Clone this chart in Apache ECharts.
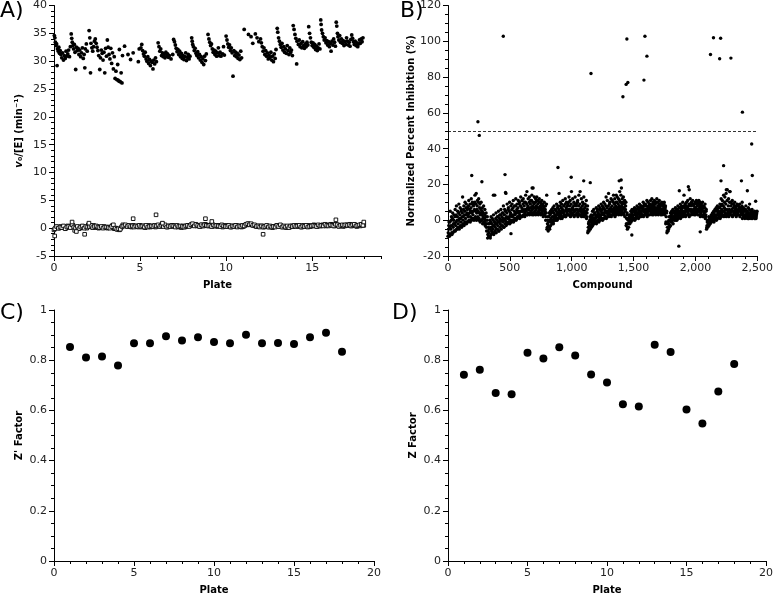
<!DOCTYPE html>
<html><head><meta charset="utf-8">
<script src="https://cdn.jsdelivr.net/npm/echarts@6/dist/echarts.min.js"></script>
<style>html,body{margin:0;padding:0;background:#fff}#c{width:776px;height:596px}</style>
</head><body><div id="c"></div>
<script>
// ---------- Panel A: v0/[E] per well, by plate ----------
const rateSample = [
[0.02,34.6],[0.05,34.2],[0.08,33.4],[0.12,32.8],[0.15,33.1],[0.18,29.2],[0.2,32.2],[0.25,31.8],[0.28,32.5],[0.32,31.4],[0.36,31.9],[0.4,31.2],[0.45,30.6],[0.5,31.5],[0.55,30.2],[0.6,31.0],[0.65,30.5],[0.7,31.8],[0.75,30.9],[0.8,31.3],[0.85,32.0],[0.9,30.8],[0.95,32.6],
[1.0,34.9],[1.03,34.1],[1.06,33.4],[1.1,32.8],[1.14,32.2],[1.18,33.0],[1.22,31.6],[1.26,28.5],[1.3,32.5],[1.35,31.9],[1.4,32.3],[1.45,31.2],[1.5,32.0],[1.55,30.8],[1.6,31.5],[1.65,32.4],[1.7,30.5],[1.75,31.2],[1.79,28.8],[1.82,32.2],[1.88,33.1],[1.93,31.8],
[2.04,35.5],[2.08,34.2],[2.12,27.9],[2.15,33.2],[2.2,32.4],[2.25,31.8],[2.3,32.6],[2.35,33.6],[2.4,34.0],[2.45,33.2],[2.5,32.5],[2.55,31.9],[2.6,31.0],[2.66,28.5],[2.7,30.6],[2.75,32.0],[2.8,31.4],[2.85,30.2],[2.9,31.6],[2.95,27.9],[3.0,32.3],[3.05,30.9],
[3.1,33.8],[3.15,32.5],[3.2,31.2],[3.25,30.4],[3.3,32.3],[3.35,29.6],[3.4,31.5],[3.45,28.6],[3.5,30.8],[3.55,26.9],[3.6,28.2],[3.65,26.7],[3.7,29.4],[3.72,26.6],[3.78,26.4],[3.8,32.1],[3.85,26.3],[3.9,27.9],[3.95,26.1],[3.98,31.0],
[4.1,32.7],[4.3,31.2],[4.45,30.3],[4.6,31.5],[4.9,29.9],[4.95,32.2],
[5.05,32.4],[5.1,33.0],[5.15,31.9],[5.2,31.3],[5.25,30.9],[5.3,31.6],[5.35,30.4],[5.4,30.0],[5.45,30.8],[5.5,29.6],[5.55,30.3],[5.6,29.2],[5.65,30.0],[5.7,29.8],[5.75,28.6],[5.8,30.2],[5.85,29.5],[5.9,30.6],[5.95,29.9],
[6.05,33.3],[6.1,32.6],[6.15,31.8],[6.2,32.2],[6.25,31.0],[6.3,31.5],[6.35,30.8],[6.4,31.2],[6.45,30.6],[6.5,31.6],[6.55,30.9],[6.6,31.3],[6.65,30.7],[6.7,31.0],[6.8,30.4],[6.9,31.2],[6.95,33.9],
[7.0,33.5],[7.05,32.9],[7.1,32.3],[7.15,31.7],[7.2,32.1],[7.25,31.2],[7.3,31.8],[7.35,30.8],[7.4,31.4],[7.45,30.5],[7.5,31.0],[7.55,30.3],[7.6,30.8],[7.65,31.5],[7.7,30.1],[7.75,30.7],[7.8,31.2],[7.85,30.4],[7.9,30.9],
[8.0,34.2],[8.03,33.6],[8.06,33.0],[8.1,32.6],[8.15,31.9],[8.2,32.3],[8.25,31.4],[8.3,31.0],[8.35,31.7],[8.4,30.6],[8.45,31.2],[8.5,30.2],[8.55,30.8],[8.6,29.8],[8.65,30.4],[8.7,29.4],[8.75,30.9],[8.8,30.1],[8.85,31.3],
[8.95,34.8],[9.0,34.0],[9.05,33.4],[9.1,32.8],[9.15,33.1],[9.2,32.2],[9.25,31.6],[9.3,32.0],[9.35,31.2],[9.4,31.8],[9.45,30.9],[9.5,31.5],[9.55,32.4],[9.6,31.0],[9.65,31.6],[9.7,30.9],[9.8,31.3],[9.85,32.6],[9.9,31.1],
[10.0,34.5],[10.05,33.8],[10.1,33.1],[10.15,32.5],[10.2,32.9],[10.25,31.9],[10.3,32.4],[10.35,31.5],[10.4,27.3],[10.45,31.9],[10.5,31.0],[10.55,31.6],[10.6,30.8],[10.65,31.4],[10.7,30.5],[10.75,31.1],[10.8,30.3],[10.85,31.8],[10.9,30.6],
[11.05,35.7],[11.3,34.8],[11.45,34.4],[11.55,33.2],[11.7,34.9],[11.8,34.2],[11.9,33.5],
[12.0,34.0],[12.05,33.3],[12.1,32.6],[12.15,31.8],[12.2,32.4],[12.25,31.2],[12.3,31.9],[12.35,30.9],[12.4,31.5],[12.45,30.4],[12.5,31.1],[12.55,30.7],[12.6,31.6],[12.65,30.2],[12.7,30.9],[12.75,29.9],[12.8,31.3],[12.85,30.5],[12.9,32.1],
[12.97,35.9],[13.0,35.2],[13.05,34.2],[13.1,33.6],[13.15,33.0],[13.2,32.5],[13.25,33.2],[13.3,32.0],[13.35,32.6],[13.4,31.6],[13.45,32.2],[13.5,31.4],[13.55,32.8],[13.6,31.9],[13.65,31.2],[13.7,32.4],[13.75,31.6],[13.8,32.0],[13.85,31.0],
[13.9,36.4],[13.95,35.7],[14.0,34.8],[14.05,34.1],[14.1,29.5],[14.12,33.6],[14.2,33.0],[14.25,33.8],[14.3,32.6],[14.35,33.2],[14.4,32.4],[14.45,33.5],[14.5,32.8],[14.55,32.3],[14.6,33.1],[14.65,32.6],[14.7,33.4],[14.75,32.9],
[14.8,36.2],[14.85,35.0],[14.9,34.2],[14.95,33.4],[15.0,32.8],[15.05,33.3],[15.1,32.5],[15.15,33.0],[15.2,32.1],[15.25,32.7],[15.3,31.9],[15.35,32.4],[15.4,33.1],[15.45,32.2],[15.5,37.4],[15.52,36.6],[15.55,35.6],
[15.6,35.0],[15.65,34.4],[15.7,33.8],[15.75,34.2],[15.8,33.3],[15.85,33.7],[15.9,32.9],[15.95,33.5],[16.0,32.6],[16.05,33.2],[16.1,31.8],[16.15,33.6],[16.2,32.9],[16.25,34.0],[16.3,33.4],[16.35,32.7],
[16.4,37.0],[16.43,36.3],[16.47,35.0],[16.5,34.4],[16.55,33.8],[16.6,34.6],[16.65,33.4],[16.7,34.0],[16.75,33.2],[16.8,33.7],[16.85,32.8],[16.9,33.5],[16.95,33.0],[17.0,34.2],[17.05,33.6],[17.1,32.9],[17.15,33.4],[17.2,32.7],[17.25,33.9],
[17.3,34.7],[17.35,34.1],[17.4,33.5],[17.45,33.0],[17.5,33.6],[17.55,32.8],[17.6,33.3],[17.65,32.6],[17.7,33.1],[17.75,33.8],[17.8,33.2],[17.85,34.0],[17.9,33.5],[17.95,34.2]
];
// control wells (open squares): two interleaved readings every 0.1 plate
const controlStep = 0.1;
const rateControl = [
-0.3,0.1,0.2,0.0,0.3,0.1,0.2,0.0,0.4,0.2,
0.3,0.5,-0.4,0.1,0.2,0.0,0.3,0.1,0.2,0.0,
0.6,0.4,0.2,0.5,0.1,0.3,0.0,0.2,0.1,0.3,
0.1,0.0,0.2,0.1,0.5,-0.1,0.0,-0.2,-0.3,0.1,
0.6,0.4,0.5,0.3,0.4,0.2,0.5,0.3,0.4,0.2,
0.5,0.2,0.4,0.1,0.3,0.5,0.2,0.4,0.3,0.2,
0.4,0.5,0.3,0.8,0.4,0.3,0.2,0.4,0.3,0.5,
0.3,0.4,0.2,0.3,0.1,0.4,0.2,0.3,0.5,0.4,
0.7,0.5,0.6,0.4,0.5,0.3,0.6,0.4,0.7,0.5,
0.4,0.6,0.3,0.5,0.4,0.3,0.5,0.4,0.2,0.4,
0.5,0.3,0.4,0.2,0.4,0.3,0.5,0.3,0.4,0.2,
0.3,0.5,0.6,0.8,0.7,0.6,0.5,0.4,0.3,0.4,
0.3,0.4,0.2,0.3,0.4,0.2,0.3,0.1,0.3,0.4,
0.5,0.3,0.4,0.2,0.3,0.1,0.3,0.2,0.4,0.3,
0.4,0.5,0.3,0.4,0.2,0.5,0.3,0.4,0.5,0.3,
0.4,0.6,0.5,0.3,0.5,0.4,0.6,0.5,0.4,0.6,
0.5,0.7,0.6,0.4,0.5,0.6,0.4,0.5,0.3,0.4,
0.6,0.5,0.7,0.4,0.5,0.6,0.3,0.5,0.4,0.6,
0.5];
const rateControlB = [
-0.1,0.3,0.0,0.2,0.1,0.4,-0.1,0.2,0.3,0.1,
0.6,0.2,0.0,0.3,-0.1,0.2,0.4,0.0,0.3,0.2,
0.3,0.5,0.1,0.3,0.4,0.2,0.1,0.3,0.0,0.2,
0.2,0.1,0.0,0.3,0.6,0.0,-0.2,-0.1,-0.2,0.3,
0.4,0.6,0.3,0.5,0.3,0.4,0.2,0.4,0.3,0.5,
0.3,0.4,0.2,0.5,0.2,0.3,0.4,0.3,0.5,0.4,
0.6,0.3,0.5,0.3,0.6,0.2,0.4,0.3,0.5,0.4,
0.2,0.5,0.3,0.4,0.3,0.2,0.4,0.5,0.3,0.6,
0.8,0.4,0.7,0.5,0.3,0.6,0.4,0.6,0.5,0.4,
0.5,0.3,0.6,0.4,0.5,0.4,0.3,0.6,0.4,0.3,
0.3,0.5,0.2,0.4,0.3,0.5,0.2,0.4,0.3,0.5,
0.4,0.7,0.8,0.6,0.8,0.5,0.6,0.3,0.4,0.2,
0.4,0.2,0.3,0.5,0.2,0.4,0.2,0.3,0.2,0.5,
0.3,0.6,0.2,0.4,0.2,0.4,0.1,0.4,0.3,0.5,
0.3,0.4,0.5,0.2,0.4,0.3,0.5,0.2,0.3,0.4,
0.5,0.4,0.3,0.6,0.4,0.5,0.4,0.7,0.5,0.4,
0.6,0.5,0.4,0.7,0.6,0.3,0.5,0.6,0.5,0.6,
0.5,0.6,0.4,0.6,0.7,0.4,0.5,0.6,0.7,0.5];
const rateControlOutliers = [[0.04,-1.4],[1.05,1.1],[1.3,-0.6],[1.78,-1.1],[2.03,0.9],[4.6,1.7],[5.93,2.4],[6.3,0.9],[8.8,1.7],[9.17,1.2],[12.15,-1.1],[16.38,1.5],[18.0,1.1]];

// ---------- Panel B: normalized percent inhibition per compound ----------
const compoundStep = 10;
const inhibLow = [
-9,-8,-8,-7,-7,-6,-6,-5,-4,-5,-3,-4,-2,-3,-1,-2,-1,0,-1,0,1,0,1,0,1,0,-1,0,-2,-1,-3,-4,
-10,-9,-9,-8,-7,-8,-6,-7,-5,-6,-4,-5,-3,-4,-2,-3,-2,-1,-2,-1,0,-1,1,0,1,2,1,2,2,3,2,3,3,4,3,4,3,4,4,3,4,3,4,3,4,2,3,0,
-5,-6,-4,-3,-2,-1,0,0,1,1,2,1,2,2,3,2,3,3,3,2,3,3,2,3,3,2,3,3,2,3,2,3,1,
-7,-6,-5,-4,-3,-2,-1,-2,0,-1,0,1,0,1,2,1,2,2,3,2,3,3,2,3,4,3,4,3,4,3,2,-3,
-5,-4,-2,-1,0,1,0,1,2,1,2,2,3,2,3,3,2,3,3,4,3,3,4,3,4,3,4,3,3,4,3,-2,
-7,-6,-4,-3,-1,-2,0,1,0,1,2,1,2,2,3,2,3,3,2,3,3,4,3,3,4,3,3,2,3,2,3,1,
-5,-4,-3,-2,-1,0,-1,1,0,1,2,1,2,3,2,3,2,3,2,3,3,2,3,3,2,3,3,2,3,1,2,1,2,1,1,2,1,1,2,1,1];
const inhibLowMid = [
-7,-9,-5,-8,-4,-6,-3,-5,-2,-4,-1,-3,0,-2,1,-1,2,0,2,1,3,1,2,4,2,1,3,0,1,-1,-2,-6,
-8,-7,-10,-6,-5,-7,-4,-5,-3,-6,-2,-3,-1,-4,0,-1,-2,1,0,-1,2,0,3,1,2,4,3,2,5,3,4,5,3,6,4,5,6,3,5,6,4,5,6,4,5,3,4,2,
-4,-3,-5,-1,0,-2,1,2,0,3,2,3,1,4,3,2,4,3,5,4,3,4,5,3,4,4,3,5,4,3,4,4,2,
-6,-5,-3,-2,-1,0,1,-1,2,1,2,3,1,3,2,4,3,4,3,5,4,5,4,5,6,5,6,5,6,4,5,-2,
-4,-2,-1,0,2,1,3,2,3,4,3,4,3,5,4,5,4,5,6,5,4,5,6,5,4,5,6,5,4,5,4,-1,
-6,-5,-3,-1,0,1,2,0,2,3,2,3,4,3,4,3,5,4,3,5,4,5,4,5,4,5,5,4,5,3,4,2,
-4,-3,-2,-1,0,1,0,2,1,3,2,3,4,3,5,4,3,4,3,4,5,3,4,4,3,4,5,3,4,3,2,2,3,2,1,2,3,2,2,1,2];
const inhibMid = [
-5,-4,-3,-3,-2,-2,-1,0,0,1,1,2,2,3,3,4,3,4,5,4,5,6,5,6,5,4,4,3,2,1,0,-2,
-6,-5,-4,-4,-3,-3,-2,-2,-1,-1,0,0,1,0,1,2,1,2,3,2,3,3,4,4,5,4,5,5,6,5,6,6,7,6,7,7,8,7,7,8,7,7,6,7,6,6,5,4,
-2,-1,0,1,2,2,3,3,4,4,5,4,5,5,5,6,5,6,6,5,6,6,5,6,6,5,6,6,5,6,5,5,4,
-4,-3,-1,0,1,1,2,2,3,3,3,4,4,4,5,5,5,6,5,6,6,7,6,7,7,8,7,8,7,7,6,1,
-2,0,1,2,3,3,4,4,4,5,5,5,6,5,6,6,6,7,6,7,6,7,7,6,7,6,7,6,6,7,6,2,
-4,-2,0,1,2,2,3,3,4,4,4,5,5,5,5,6,5,6,6,6,5,6,6,7,6,6,7,6,6,5,5,3,
-3,-2,-1,0,1,2,2,3,3,4,4,5,6,5,7,6,6,5,6,5,6,5,5,6,5,5,6,5,5,4,3,3,4,3,3,3,2,3,3,2,3];
const inhibMidHigh = [
-3,-1,0,1,0,2,3,2,4,3,5,4,6,5,7,6,8,6,7,9,8,10,9,8,10,7,6,5,4,3,2,0,
-4,-2,-1,-2,0,-1,1,0,2,1,3,2,4,3,5,4,6,5,4,6,7,5,8,6,7,9,8,7,9,8,10,9,8,10,9,11,10,9,10,11,9,10,8,9,8,7,6,9,
0,2,3,4,5,4,6,5,7,6,8,7,6,8,9,7,8,10,8,9,7,8,9,8,10,8,9,7,8,9,7,8,6,
-2,0,1,2,3,4,3,5,4,6,5,6,7,6,8,7,8,9,7,8,10,9,8,10,9,11,10,9,10,9,8,3,
0,2,3,4,5,6,5,6,7,6,7,8,7,8,9,8,7,8,9,8,9,8,9,10,8,9,8,9,8,9,7,4,
-2,0,2,3,4,5,4,5,6,5,7,6,7,8,7,8,7,8,9,8,9,8,7,9,8,9,8,7,8,7,7,5,
-1,0,1,2,3,4,3,5,6,5,7,8,9,8,10,9,11,8,10,8,9,7,8,7,8,6,7,6,8,6,5,6,5,4,6,4,5,3,4,4,4];
const inhibHigh = [
-1,5,2,4,3,6,8,5,9,7,6,13,8,10,9,7,11,9,12,10,9,14,15,11,12,9,10,7,8,6,4,2,
-2,0,2,1,3,14,4,2,5,3,6,4,8,6,15,9,7,10,8,9,11,8,12,9,11,10,13,11,12,10,14,16,12,13,11,14,18,13,12,13,11,12,10,11,9,10,8,14,
2,4,5,6,7,8,6,9,8,15,10,9,11,8,12,10,9,13,11,16,12,10,13,9,11,14,16,12,10,13,9,11,8,
-1,2,3,5,6,4,7,6,8,7,9,8,10,9,13,11,15,10,12,11,14,12,10,13,12,16,14,12,13,11,10,4,
1,3,5,6,5,7,6,8,7,9,8,7,10,9,8,11,10,9,11,12,10,11,10,12,10,11,9,10,9,10,8,5,
-1,2,4,5,6,5,7,6,8,7,9,8,10,14,9,10,11,9,12,10,11,9,10,11,10,11,10,9,10,8,9,6,
0,2,1,3,4,5,6,7,8,7,9,12,11,14,13,15,17,12,16,10,11,9,10,8,9,8,9,7,10,7,6,8,5,7,9,5,6,4,5,4,5];
const inhibLayerOffset = [0, 2, 4, 6, 8];
const inhibOutliers = [[192,25],[274,21.5],[461,25.5],[465,15.5],[367,14],[509,-7.5],[680,18],[889,29.5],[996,24],[1097,22],[1150,21],[1360,14],[1384,22],[1400,22.5],[1402,18],[1486,-8.3],[1866,-14.5],[1870,16.5],[1943,18.7],[1950,17],[2039,-6.5],[2207,22],[2228,30.5],[2250,17],[2280,16],[2372,22],[2420,16.5],[2460,25],[2487,10.6]];
const inhibHits = [[242,55],[253,47.4],[447,102.8],[1156,82],[1414,69],[1440,75.9],[1454,77],[1446,101.3],[1584,78.3],[1592,102.8],[1608,91.7],[2122,92.6],[2146,102],[2196,90.2],[2204,101.7],[2287,90.6],[2380,60.4],[2455,42.6]];
const hitThreshold = 50;

// ---------- Panels C & D: plate quality ----------
const plates = [1,2,3,4,5,6,7,8,9,10,11,12,13,14,15,16,17,18];
const zPrime = [0.853,0.811,0.815,0.779,0.868,0.868,0.895,0.878,0.891,0.873,0.868,0.901,0.868,0.869,0.865,0.891,0.909,0.834];
const zFactor = [0.742,0.762,0.669,0.664,0.830,0.807,0.852,0.819,0.743,0.711,0.625,0.616,0.862,0.833,0.604,0.548,0.675,0.785];

// ---------- build ----------
const FONT = 'DejaVu Sans';
const bandData = [];
[inhibLow, inhibLowMid, inhibMid, inhibMidHigh, inhibHigh].forEach((arr, li) => {
  arr.forEach((v, i) => bandData.push([i * compoundStep + inhibLayerOffset[li], v]));
});
const controlData = rateControl.map((v, i) => [+(i * controlStep).toFixed(2), v])
  .concat(rateControlB.map((v, i) => [+(i * controlStep + controlStep / 2).toFixed(2), v]))
  .concat(rateControlOutliers);

function axisBase(extra) {
  const base = {
    type: 'value',
    axisLine: { show: true, onZero: false, lineStyle: { color: '#000', width: 1 } },
    axisTick: { show: true, inside: false, length: 5, lineStyle: { color: '#000', width: 1 } },
    minorTick: { show: true, length: 3, lineStyle: { color: '#000', width: 1 } },
    splitLine: { show: false },
    minorSplitLine: { show: false },
    axisLabel: { color: '#222', fontSize: 11, fontFamily: FONT, margin: 7, hideOverlap: false },
    nameLocation: 'middle',
    nameTextStyle: { color: '#000', fontSize: 10, fontWeight: 'bold', fontFamily: FONT }
  };
  return echarts.util.merge(base, extra, true);
}

const option = {
  backgroundColor: '#fff',
  animation: false,
  grid: [
    { left: 54, top: 4, width: 327, height: 252 },
    { left: 448, top: 4, width: 313, height: 252 },
    { left: 54, top: 310, width: 320, height: 252 },
    { left: 448, top: 310, width: 320, height: 252 }
  ],
  xAxis: [
    axisBase({ gridIndex: 0, min: 0, max: 19, interval: 5, name: 'Plate', nameGap: 24, position: 'bottom',
      minorTick: { show: false },
      axisTick: { customValues: [0, 5, 10, 15] },
      axisLabel: { customValues: [0, 5, 10, 15] } }),
    axisBase({ gridIndex: 1, min: 0, max: 2500, interval: 500, name: 'Compound', nameGap: 24,
      minorTick: { splitNumber: 5 },
      axisLabel: { formatter: v => String(v).replace(/\B(?=(\d{3})+(?!\d))/g, ',') } }),
    axisBase({ gridIndex: 2, min: 0, max: 20, interval: 5, name: 'Plate', nameGap: 24, minorTick: { splitNumber: 5 } }),
    axisBase({ gridIndex: 3, min: 0, max: 20, interval: 5, name: 'Plate', nameGap: 24, minorTick: { splitNumber: 5 } }),
    axisBase({ gridIndex: 0, min: 0, max: 19, interval: 1, position: 'bottom', offset: 0,
      axisLine: { show: false }, axisTick: { length: 3 }, minorTick: { show: false }, axisLabel: { show: false } })
  ],
  yAxis: [
    axisBase({ gridIndex: 0, min: -5, max: 40, interval: 5, name: '{i|v}₀/[E] (min⁻¹)', nameGap: 30,
      minorTick: { splitNumber: 5 },
      nameTextStyle: { rich: { i: { fontStyle: 'italic', fontWeight: 'bold', fontSize: 10, fontFamily: FONT, color: '#000' } } } }),
    axisBase({ gridIndex: 1, min: -20, max: 120, interval: 20, name: 'Normalized Percent Inhibition (%)', nameGap: 32,
      minorTick: { splitNumber: 4 } }),
    axisBase({ gridIndex: 2, min: 0, max: 1, interval: 0.2, name: "Z' Factor", nameGap: 30, minorTick: { splitNumber: 4 } }),
    axisBase({ gridIndex: 3, min: 0, max: 1, interval: 0.2, name: 'Z Factor', nameGap: 30, minorTick: { splitNumber: 4 } })
  ],
  graphic: [
    { type: 'text', left: 0, top: 0, style: { text: 'A)', font: '22px "DejaVu Sans"', fill: '#000' } },
    { type: 'text', left: 400, top: 0, style: { text: 'B)', font: '22px "DejaVu Sans"', fill: '#000' } },
    { type: 'text', left: 0, top: 302, style: { text: 'C)', font: '22px "DejaVu Sans"', fill: '#000' } },
    { type: 'text', left: 392, top: 302, style: { text: 'D)', font: '22px "DejaVu Sans"', fill: '#000' } }
  ],
  series: [
    { type: 'scatter', xAxisIndex: 0, yAxisIndex: 0, data: controlData, symbol: 'rect', symbolSize: 3.6,
      itemStyle: { color: '#fff', borderColor: '#000', borderWidth: 0.9, opacity: 1 } },
    { type: 'scatter', xAxisIndex: 0, yAxisIndex: 0, data: rateSample, symbol: 'circle', symbolSize: 3.8,
      itemStyle: { color: '#000', opacity: 1 } },
    { type: 'scatter', xAxisIndex: 1, yAxisIndex: 1, data: bandData.concat(inhibOutliers, inhibHits), symbol: 'circle', symbolSize: 3.4,
      itemStyle: { color: '#000', opacity: 1 },
      markLine: { silent: true, symbol: 'none', label: { show: false }, animation: false,
        lineStyle: { color: '#000', width: 0.8, type: [3, 2] }, data: [{ yAxis: hitThreshold }] } },
    { type: 'scatter', xAxisIndex: 2, yAxisIndex: 2, data: plates.map((p, i) => [p, zPrime[i]]), symbol: 'circle', symbolSize: 8,
      itemStyle: { color: '#000', opacity: 1 } },
    { type: 'scatter', xAxisIndex: 3, yAxisIndex: 3, data: plates.map((p, i) => [p, zFactor[i]]), symbol: 'circle', symbolSize: 8,
      itemStyle: { color: '#000', opacity: 1 } }
  ]
};
const chart = echarts.init(document.getElementById('c'), null, { renderer: 'canvas' });
chart.setOption(option);
</script>
</body></html>
